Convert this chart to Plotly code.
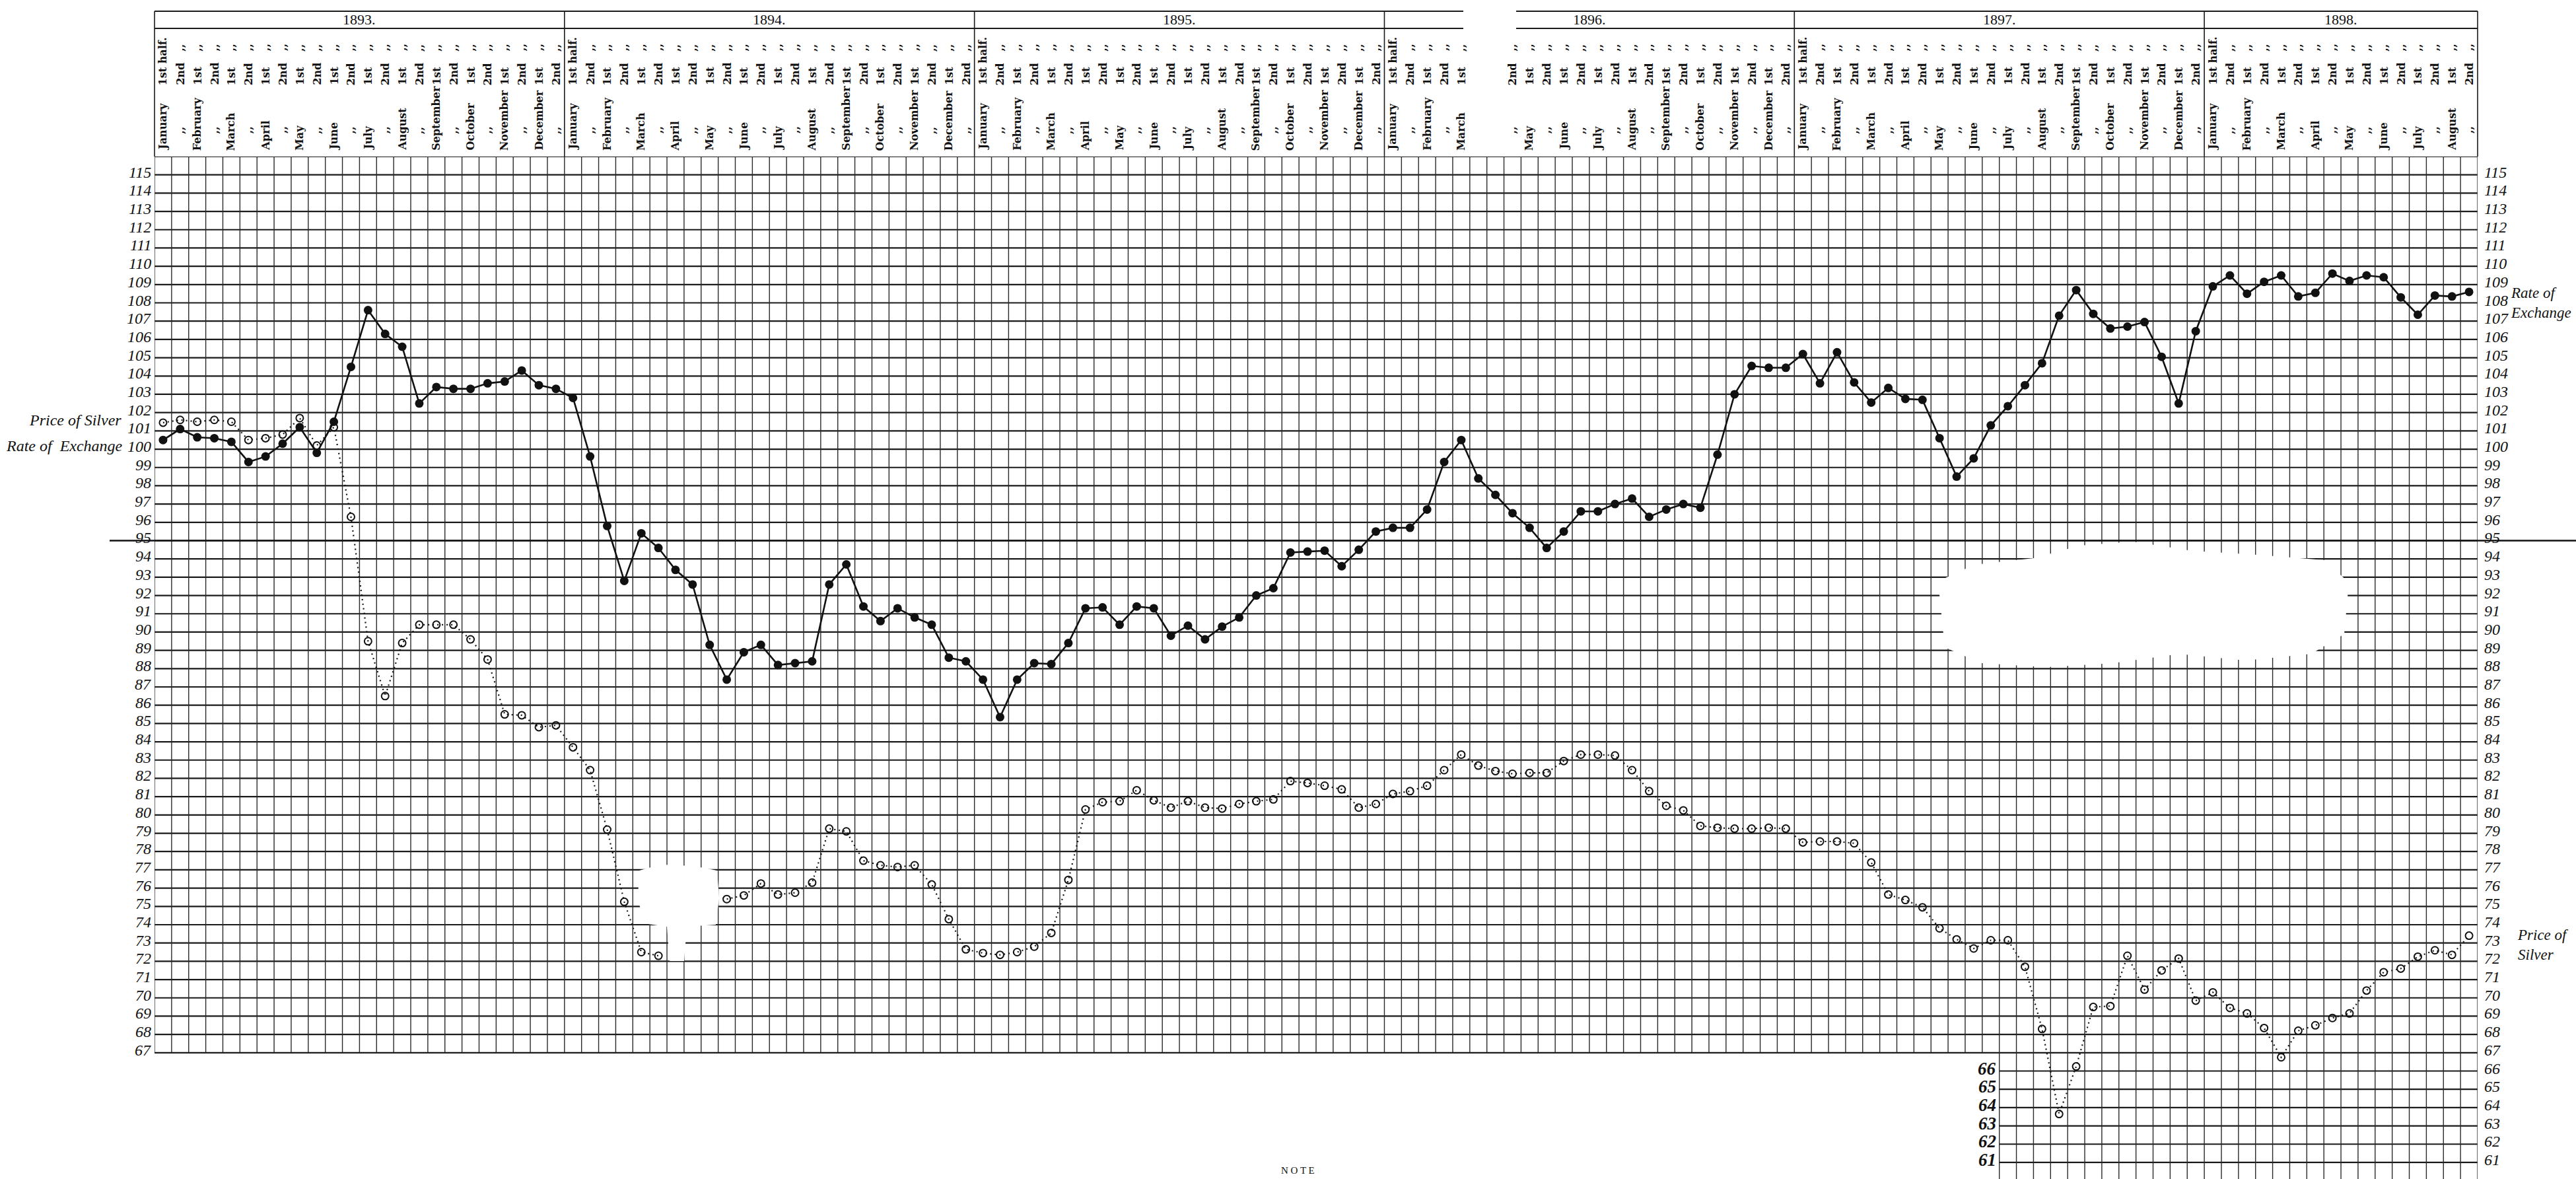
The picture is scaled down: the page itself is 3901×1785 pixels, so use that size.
import plotly.graph_objects as go

# ---------------- data ----------------
years = [1893, 1894, 1895, 1896, 1897, 1898]
months = ["January", "February", "March", "April", "May", "June", "July",
          "August", "September", "October", "November", "December"]
halves = ["1st", "2nd"]
halves_per_year = [24, 24, 24, 24, 24, 16]

# Rate of Exchange (index), one value per half-month
exchange_1893 = [100.5, 101.1, 100.65, 100.6, 100.4, 99.3, 99.6, 100.3, 101.2, 99.8, 101.5, 104.5,
                 107.6, 106.3, 105.6, 102.5, 103.4, 103.3, 103.3, 103.6, 103.7, 104.3, 103.5, 103.3]
exchange_1894 = [102.8, 99.6, 95.8, 92.8, 95.4, 94.6, 93.4, 92.6, 89.3, 87.4, 88.9, 89.3,
                 88.2, 88.3, 88.4, 92.6, 93.7, 91.4, 90.6, 91.3, 90.8, 90.4, 88.6, 88.4]
exchange_1895 = [87.4, 85.35, 87.4, 88.3, 88.25, 89.4, 91.3, 91.35, 90.4, 91.4, 91.3, 89.8,
                 90.35, 89.6, 90.3, 90.8, 92.0, 92.4, 94.35, 94.4, 94.45, 93.6, 94.5, 95.5]
exchange_1896 = [95.7, 95.7, 96.7, 99.3, 100.5, 98.4, 97.5, 96.5, 95.7, 94.6, 95.5, 96.6,
                 96.6, 97.0, 97.3, 96.3, 96.7, 97.0, 96.8, 99.7, 103.0, 104.55, 104.45, 104.45]
exchange_1897 = [105.2, 103.6, 105.3, 103.65, 102.55, 103.35, 102.75, 102.7, 100.6, 98.5, 99.5, 101.3,
                 102.35, 103.5, 104.7, 107.3, 108.7, 107.4, 106.6, 106.7, 106.95, 105.05, 102.5, 106.45]
exchange_1898 = [108.9, 109.5, 108.5, 109.15, 109.5, 108.35, 108.55, 109.6,
                 109.2, 109.5, 109.4, 108.3, 107.35, 108.4, 108.35, 108.6]

# Price of Silver (index); None = point not legible on the sheet
silver_1893 = [101.45, 101.6, 101.5, 101.6, 101.5, 100.5, 100.6, 100.8, 101.7, 100.2, 101.2, 96.3,
               89.5, 86.5, 89.4, 90.4, 90.4, 90.4, 89.6, 88.5, 85.5, 85.45, 84.8, 84.9]
silver_1894 = [83.7, 82.45, 79.2, 75.25, 72.5, 72.3, None, None, None, 75.4, 75.6, 76.25,
               75.65, 75.75, 76.3, 79.25, 79.1, 77.5, 77.25, 77.15, 77.25, 76.2, 74.3, 72.65]
silver_1895 = [72.45, 72.35, 72.5, 72.8, 73.55, 76.45, 80.3, 80.7, 80.75, 81.35, 80.8, 80.4,
               80.75, 80.4, 80.35, 80.6, 80.75, 80.85, 81.85, 81.75, 81.6, 81.4, 80.4, 80.6]
silver_1896 = [81.15, 81.3, 81.6, 82.45, 83.3, 82.7, 82.4, 82.25, 82.3, 82.3, 82.95, 83.3,
               83.3, 83.25, 82.45, 81.3, 80.5, 80.25, 79.4, 79.3, 79.25, 79.25, 79.3, 79.25]
silver_1897 = [78.5, 78.55, 78.55, 78.45, 77.4, 75.65, 75.35, 74.95, 73.8, 73.2, 72.7, 73.15,
               73.15, 71.7, 68.3, 63.65, 66.25, 69.5, 69.55, 72.3, 70.45, 71.5, 72.15, 69.85]
silver_1898 = [70.3, 69.45, 69.15, 68.35, 66.75, 68.2, 68.5, 68.9,
               69.15, 70.4, 71.4, 71.6, 72.25, 72.6, 72.35, 73.4]

left_ticks = list(range(115, 66, -1))      # 115 .. 67
right_ticks = list(range(115, 60, -1))     # 115 .. 61
lower_ticks = list(range(66, 60, -1))      # 66 .. 61

exchange = exchange_1893 + exchange_1894 + exchange_1895 + exchange_1896 + exchange_1897 + exchange_1898
silver = silver_1893 + silver_1894 + silver_1895 + silver_1896 + silver_1897 + silver_1898

periods = []
for y, n in zip(years, halves_per_year):
    for k in range(n):
        periods.append((y, months[k // 2], halves[k % 2], k))
xs = list(range(len(periods)))
NCOL = len(periods)

# ---------------- geometry ----------------
W, H = 3901, 1785
L, R, T, B = 234, 3752, 237, 1785
Y_TOP = 116
Y_BOT = Y_TOP - (B - T) / 27.69
EXT_START = 108          # first half-month column of the lower extension
GRID_BOTTOM = 67
TORN_HEADER = (77, 78)   # header cells lost to a tear in the sheet
TEAR_X = (2216, 2296)


def xp(px):
    return (px - L) / (R - L)


def yp(py):
    return (B - py) / (B - T)


def ppath(points):
    return "M" + " L".join(f"{xp(a):.5f},{yp(b):.5f}" for a, b in points) + " Z"


fig = go.Figure()

fig.add_trace(go.Scatter(
    x=xs, y=exchange, mode="lines+markers", name="Rate of Exchange",
    line=dict(color="#111111", width=2.6),
    marker=dict(symbol="circle", size=13, color="#111111"),
    hoverinfo="skip"))

fig.add_trace(go.Scatter(
    x=xs, y=silver, mode="lines+markers", name="Price of Silver",
    line=dict(color="#111111", width=2.2, dash="2px,5px"),
    marker=dict(symbol="circle-open", size=11, color="#111111", line=dict(width=2)),
    hoverinfo="skip"))

shapes = []
# horizontal grid lines
hpath = ""
for v in range(GRID_BOTTOM, Y_TOP + 1):
    hpath += f"M{-0.5},{v} L{NCOL - 0.5},{v} "
for v in lower_ticks:
    hpath += f"M{EXT_START - 0.5},{v} L{NCOL - 0.5},{v} "
shapes.append(dict(type="path", xref="x", yref="y", path=hpath,
                   line=dict(color="#1a1a1a", width=2.2), layer="below"))
# vertical grid lines
vpath = ""
for k in range(NCOL + 1):
    y0 = Y_BOT if k >= EXT_START else GRID_BOTTOM
    vpath += f"M{k - 0.5},{y0} L{k - 0.5},{Y_TOP} "
shapes.append(dict(type="path", xref="x", yref="y", path=vpath,
                   line=dict(color="#2a2a2a", width=1.4), layer="below"))

# long line at 95 running past the grid
shapes.append(dict(type="line", xref="paper", yref="y", x0=xp(166), x1=xp(W), y0=95, y1=95,
                   line=dict(color="#111111", width=2.4)))

# header frame (with the torn piece missing)
for py in (17, 43):
    for x0, x1 in ((L, TEAR_X[0]), (TEAR_X[1], R)):
        shapes.append(dict(type="line", xref="paper", yref="paper", x0=xp(x0), x1=xp(x1),
                           y0=yp(py), y1=yp(py), line=dict(color="#1a1a1a", width=2)))
start = 0
bounds = [0]
for n in halves_per_year:
    start += n
    bounds.append(start)
for b in bounds:
    shapes.append(dict(type="line", xref="paper", yref="paper", x0=b / NCOL, x1=b / NCOL,
                       y0=yp(17), y1=yp(T), line=dict(color="#1a1a1a", width=1.6)))

# white damage patches on the sheet
blotch_1894 = [(968, 1318), (1000, 1309), (1050, 1311), (1086, 1318), (1089, 1360), (1084, 1400),
               (1040, 1403), (1036, 1455), (1014, 1455), (1010, 1403), (975, 1398), (966, 1360)]
blotch_1897 = [(2935, 880), (2990, 855), (3080, 845), (3150, 826), (3230, 820), (3320, 834),
               (3420, 840), (3520, 848), (3557, 882), (3550, 960), (3500, 990), (3400, 1000),
               (3300, 990), (3200, 1004), (3100, 1010), (3000, 1004), (2945, 980)]
for pts in (blotch_1894, blotch_1897):
    shapes.append(dict(type="path", xref="paper", yref="paper", path=ppath(pts),
                       fillcolor="white", line=dict(width=0), layer="above"))

annotations = []
HEAD_FONT = dict(family="DejaVu Serif", size=16, color="#111111", weight="bold")
NUM_FONT = dict(family="Liberation Serif", size=24, color="#111111", style="italic")

# year titles
for i, y in enumerate(years):
    c = (bounds[i] + bounds[i + 1]) / 2 / NCOL
    annotations.append(dict(x=c, y=yp(30), xref="paper", yref="paper", text=f"{y}.",
                            showarrow=False, xanchor="center", yanchor="middle",
                            font=dict(family="Liberation Serif", size=22, color="#111111")))

# column headings (rotated)
for i, (y, m, h, k) in enumerate(periods):
    if i in TORN_HEADER:
        continue
    first = (k == 0)
    if h == "1st":
        annotations.append(dict(x=i, y=yp(230), xref="x", yref="paper", text=m, textangle=-90,
                                showarrow=False, xanchor="center", yanchor="bottom", font=HEAD_FONT))
    else:
        annotations.append(dict(x=i, y=yp(197), xref="x", yref="paper", text=",,", textangle=-90,
                                showarrow=False, xanchor="center", yanchor="middle", font=HEAD_FONT))
    annotations.append(dict(x=i, y=yp(131), xref="x", yref="paper",
                            text=("1st half." if first else h), textangle=-90,
                            showarrow=False, xanchor="center", yanchor="bottom", font=HEAD_FONT))
    if not first:
        annotations.append(dict(x=i, y=yp(72), xref="x", yref="paper", text=",,", textangle=-90,
                                showarrow=False, xanchor="center", yanchor="middle", font=HEAD_FONT))

# scale numbers
for v in left_ticks:
    annotations.append(dict(x=xp(231), y=v, xref="paper", yref="y", text=str(v), showarrow=False,
                            xanchor="right", yanchor="middle", yshift=4, font=NUM_FONT))
for v in right_ticks:
    annotations.append(dict(x=xp(3760), y=v, xref="paper", yref="y", text=str(v), showarrow=False,
                            xanchor="left", yanchor="middle", yshift=4, font=NUM_FONT))
for v in lower_ticks:
    annotations.append(dict(x=EXT_START - 0.62, y=v, xref="x", yref="y", text=f"<b>{v}</b>",
                            showarrow=False, xanchor="right", yanchor="middle", yshift=4,
                            font=dict(family="Liberation Serif", size=27, color="#111111", style="italic")))

SIDE_FONT = dict(family="Liberation Serif", size=24, color="#111111", style="italic")
annotations.append(dict(x=xp(186), y=101.6, xref="paper", yref="y", text="Price of Silver",
                        showarrow=False, xanchor="right", yanchor="middle", font=SIDE_FONT))
annotations.append(dict(x=xp(188), y=100.2, xref="paper", yref="y", text="Rate of  Exchange",
                        showarrow=False, xanchor="right", yanchor="middle", font=SIDE_FONT))
RIGHT_SIDE_FONT = dict(family="Liberation Serif", size=23, color="#111111", style="italic")
annotations.append(dict(x=xp(3800), y=108.0, xref="paper", yref="y", text="Rate of<br>Exchange",
                        showarrow=False, xanchor="left", yanchor="middle", align="left",
                        font=RIGHT_SIDE_FONT))
annotations.append(dict(x=xp(3810), y=72.9, xref="paper", yref="y", text="Price of<br>Silver",
                        showarrow=False, xanchor="left", yanchor="middle", align="left",
                        font=RIGHT_SIDE_FONT))
annotations.append(dict(x=xp(1965), y=yp(1772), xref="paper", yref="paper", text="N O T E",
                        showarrow=False, xanchor="center", yanchor="middle",
                        font=dict(family="Liberation Serif", size=15, color="#111111")))

fig.update_layout(
    width=W, height=H, autosize=False,
    margin=dict(l=L, r=W - R, t=T, b=H - B, pad=0),
    paper_bgcolor="white", plot_bgcolor="white",
    showlegend=False,
    xaxis=dict(range=[-0.5, NCOL - 0.5], visible=False, fixedrange=True),
    yaxis=dict(range=[Y_BOT, Y_TOP], visible=False, fixedrange=True),
    shapes=shapes, annotations=annotations,
)

fig.write_html("out.html", config={"displayModeBar": False},
               post_script="document.body.style.margin='0';document.body.style.overflow='hidden';")
